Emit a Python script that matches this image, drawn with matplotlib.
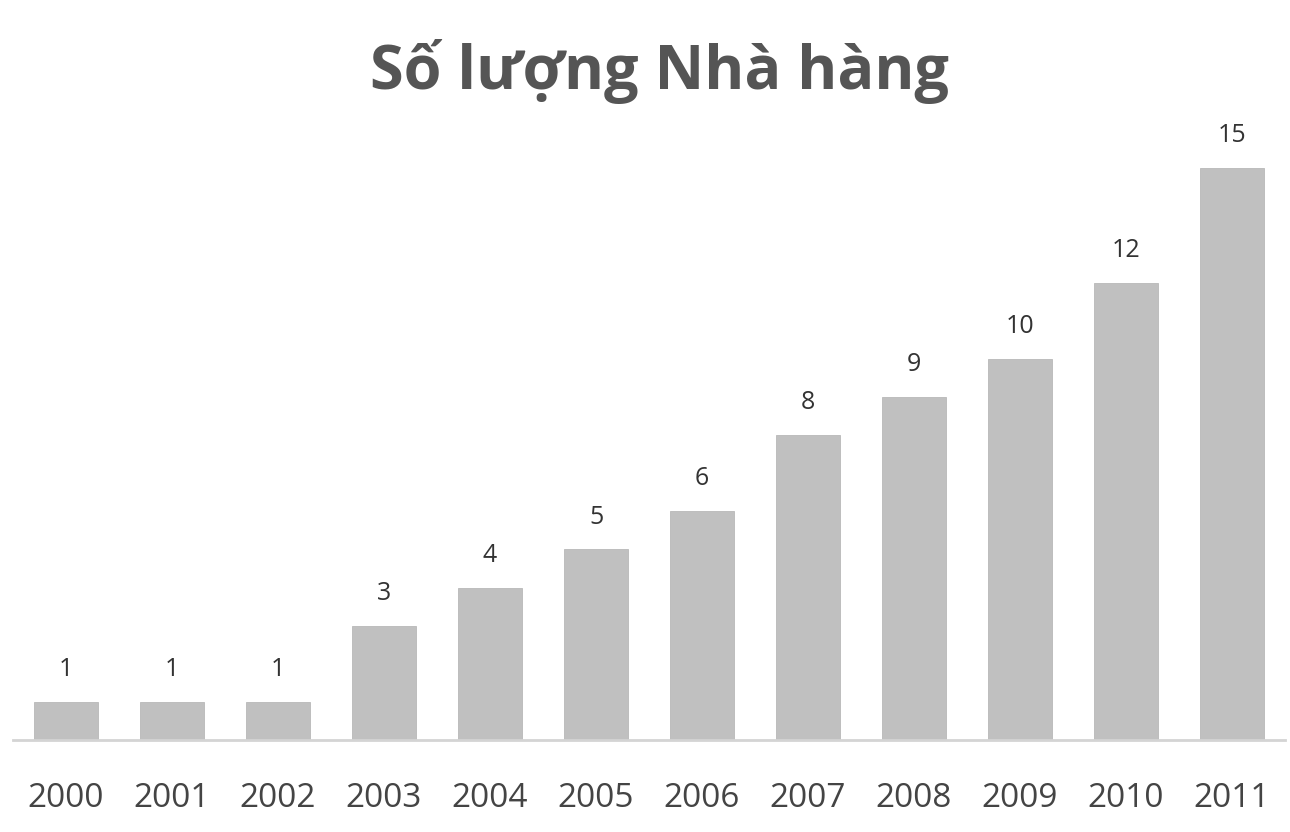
import matplotlib

matplotlib.use("Agg")
import matplotlib.pyplot as plt

years = ["2000", "2001", "2002", "2003", "2004", "2005",
         "2006", "2007", "2008", "2009", "2010", "2011"]
restaurants = [1, 1, 1, 3, 4, 5, 6, 8, 9, 10, 12, 15]
title = "Số lượng Nhà hàng"

plt.rcParams["font.family"] = ["Open Sans", "DejaVu Sans"]

fig = plt.figure(figsize=(12.9, 8.32), dpi=100)
ax = fig.add_axes([0.0101, 0.1106, 0.986, 0.733])

x = range(len(years))
bars = ax.bar(x, restaurants, width=0.6, color="#c0c0c0", edgecolor="#b8b8b8", linewidth=0.6)
for rect, value in zip(bars, restaurants):
    ax.text(rect.get_x() + rect.get_width() / 2, value + 0.85, str(value),
            ha="center", va="center", fontsize=18, color="#333333")

ax.set_xlim(-0.5, 11.5)
ax.set_ylim(0, 16)
ax.set_xticks(list(x))
ax.set_xticklabels(years, fontsize=24, color="#444444")
ax.tick_params(axis="x", length=0, pad=30)
ax.set_yticks([])
for side in ["top", "right", "left"]:
    ax.spines[side].set_visible(False)
ax.spines["bottom"].set_color("#d4d4d4")
ax.spines["bottom"].set_linewidth(2)

fig.text(0.511, 0.914, title, ha="center", va="center", fontsize=44,
         fontweight="bold", color="#555555")

fig.savefig("out.png", dpi=100, facecolor="white")
